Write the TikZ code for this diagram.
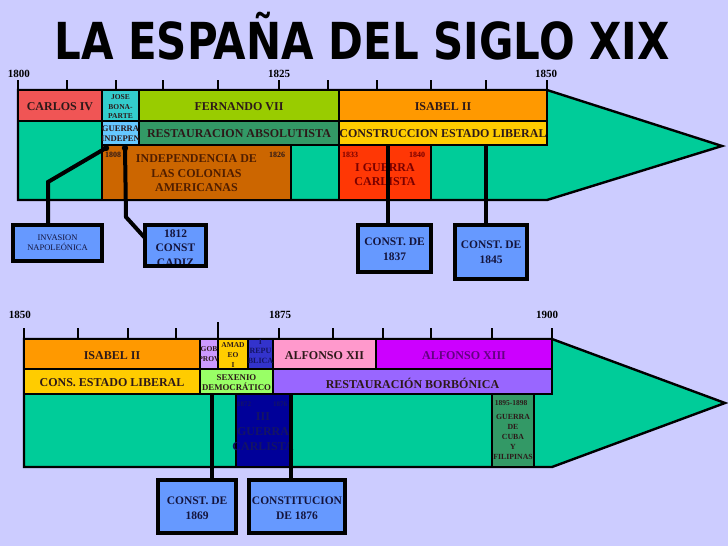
\documentclass[tikz,border=0pt]{standalone}
\usepackage{fontspec}
\setmainfont{Liberation Serif}
\newfontfamily\titlefont{DejaVu Sans}
\usetikzlibrary{calc}

\definecolor{bg}{RGB}{204,204,255}
\definecolor{teal}{RGB}{0,204,153}
\definecolor{carlosc}{RGB}{240,85,85}
\definecolor{josec}{RGB}{51,204,204}
\definecolor{fernc}{RGB}{153,204,0}
\definecolor{isac}{RGB}{255,153,0}
\definecolor{guerrac}{RGB}{102,200,255}
\definecolor{restc}{RGB}{51,153,102}
\definecolor{goldc}{RGB}{255,204,0}
\definecolor{indepc}{RGB}{204,102,0}
\definecolor{carl1c}{RGB}{255,55,5}
\definecolor{gobc}{RGB}{204,153,255}
\definecolor{repc}{RGB}{51,51,204}
\definecolor{alf12c}{RGB}{255,153,204}
\definecolor{alf13c}{RGB}{204,0,255}
\definecolor{sexc}{RGB}{153,255,102}
\definecolor{borbc}{RGB}{153,102,255}
\definecolor{carl3c}{RGB}{0,0,153}
\definecolor{cubac}{RGB}{51,153,102}
\definecolor{boxc}{RGB}{102,153,255}
\definecolor{txt}{RGB}{45,25,25}
\definecolor{indtxt}{RGB}{80,30,0}
\definecolor{car1txt}{RGB}{120,0,0}
\definecolor{alf13txt}{RGB}{100,0,130}
\definecolor{navytxt}{RGB}{20,20,100}
\definecolor{boxtxt}{RGB}{20,20,60}

\tikzset{
  cellst/.style={draw=black, line width=2.2pt, inner sep=0pt, outer sep=0pt, anchor=north west},
  boxst/.style={draw=black, line width=4pt, fill=boxc, inner sep=0pt, outer sep=0pt, anchor=north west},
  arrowst/.style={draw=black, line width=2.4pt, fill=teal, line join=miter},
  lbl/.style={font=\bfseries\fontsize{12}{14.5}\selectfont, text=txt, align=center, inner sep=0pt},
  tinylbl/.style={font=\bfseries\fontsize{7.5}{9.8}\selectfont, text=txt, align=center, inner sep=0pt},
  yrsmall/.style={font=\bfseries\fontsize{8}{9}\selectfont, text=txt, inner sep=0pt},
  yrlbl/.style={font=\bfseries\fontsize{11}{12}\selectfont, text=black, inner sep=0pt},
  boxlbl/.style={font=\bfseries\fontsize{11.5}{15}\selectfont, text=boxtxt, align=center, inner sep=0pt},
  conn/.style={draw=black, line width=4pt},
  tickst/.style={draw=black, line width=1.3pt},
}

\newcommand\mkcell[6]{%
  \pgfmathsetmacro\cw{#4-#2}\pgfmathsetmacro\ch{#5-#3}%
  \node[cellst, fill=#6, minimum width=\cw pt, minimum height=\ch pt] (#1) at (#2,#3) {};}
\newcommand\mkbox[5]{%
  \pgfmathsetmacro\cw{#4-#2}\pgfmathsetmacro\ch{#5-#3}%
  \node[boxst, minimum width=\cw pt, minimum height=\ch pt] (#1) at (#2,#3) {};}
\newcommand\titletext{\scalebox{0.823}[1]{\titlefont\bfseries\fontsize{51}{60}\selectfont LA ESPAÑA DEL SIGLO XIX}}

\begin{document}
\begin{tikzpicture}[x=1pt,y=-1pt]
\fill[bg] (0,0) rectangle (728,546);
\useasboundingbox (0,0) rectangle (728,546);

% title
\node[anchor=base, text=black, inner sep=0pt] (title) at (362,59) {\titletext};

% ================= TOP TIMELINE =================
\node[yrlbl] (y1800) at (19,74) {1800};
\node[yrlbl] (y1825) at (279,74) {1825};
\node[yrlbl] (y1850a) at (546,74) {1850};
\foreach \x in {18,67,116,163,218,279,328,377,431,486,547}
  \draw[tickst] (\x,80) -- (\x,90);

\draw[arrowst] (18,90) -- (547,90) -- (722,146) -- (547,200) -- (18,200) -- cycle;

\mkcell{carlos}{18}{90}{102}{121}{carlosc}
\mkcell{jose}{102}{90}{139}{121}{josec}
\mkcell{fernando}{139}{90}{339}{121}{fernc}
\mkcell{isabel1}{339}{90}{547}{121}{isac}
\mkcell{guerra}{102}{121}{139}{145}{guerrac}
\mkcell{restabs}{139}{121}{339}{145}{restc}
\mkcell{constlib}{339}{121}{547}{145}{goldc}
\mkcell{indep}{102}{145}{291}{200}{indepc}
\mkcell{carl1}{339}{145}{431}{200}{carl1c}

\node[lbl] (tcarlos) at ([yshift=-1pt]carlos.center) {CARLOS IV};
\node[tinylbl, font=\bfseries\fontsize{7.5}{9.5}\selectfont] (tjose) at ([yshift=-1.5pt]jose.center) {JOSE\\BONA-\\PARTE};
\node[lbl] (tfern) at ([yshift=-1pt]fernando.center) {FERNANDO VII};
\node[lbl] (tisa1) at ([yshift=-1pt]isabel1.center) {ISABEL II};
\begin{scope}
  \clip (guerra.south west) rectangle (guerra.north east);
  \node[tinylbl, font=\bfseries\fontsize{8.6}{10}\selectfont] (tguerra) at ([yshift=-0.5pt]guerra.center) {GUERRA\\INDEPEN};
\end{scope}
\node[lbl] (trest) at ([yshift=-1pt]restabs.center) {RESTAURACION ABSOLUTISTA};
\node[lbl] (tcons) at ([yshift=-1pt]constlib.center) {CONSTRUCCION ESTADO LIBERAL};
\node[lbl, text=indtxt] (tindep) at ([yshift=-1pt]indep.center) {INDEPENDENCIA DE\\LAS COLONIAS\\AMERICANAS};
\node[yrsmall] (t1808) at (113,155) {1808};
\node[yrsmall] (t1826) at (277,155) {1826};
\node[yrsmall, text=car1txt] (t1833) at (350,155) {1833};
\node[yrsmall, text=car1txt] (t1840) at (417,155) {1840};
\node[lbl, text=car1txt, font=\bfseries\fontsize{12}{14}\selectfont] (tcarl1) at ([yshift=-2pt]carl1.center) {I GUERRA\\CARLISTA};

% boxes top
\mkbox{invasion}{13}{225}{102}{261}
\mkbox{cadiz}{145}{225}{206}{266}
\mkbox{b1837}{358}{225}{431}{272}
\mkbox{b1845}{455}{225}{527}{279}

% connectors top
\coordinate (d1) at (106,148);
\coordinate (d2) at (125,148);
\coordinate (k1) at (48,182);
\coordinate (k2) at (126,217);
\coordinate (k4) at (388,145);
\coordinate (k5) at (486,145);
\draw[conn] (d1) -- (k1) -- (k1 |- invasion.north);
\draw[conn] (d2) -- (k2) -- ($(cadiz.north west)+(0,13)$);
\draw[conn] (k4) -- (k4 |- b1837.north);
\draw[conn] (k5) -- (k5 |- b1845.north);
\fill[black] (d1) circle (3.2);
\fill[black] (d2) circle (3.2);

% redraw boxes over connector ends
\mkbox{invasion}{13}{225}{102}{261}
\mkbox{cadiz}{145}{225}{206}{266}
\mkbox{b1837}{358}{225}{431}{272}
\mkbox{b1845}{455}{225}{527}{279}

\node[font=\fontsize{8.5}{10}\selectfont, text=boxtxt, align=center, inner sep=0pt] (tinv) at (57.5,243) {INVASION\\NAPOLEÓNICA};
\node[boxlbl, font=\bfseries\fontsize{11.5}{14.5}\selectfont] (tcadiz) at (175.5,248) {1812\\CONST\\CADIZ};
\draw[black, line width=4.5pt] (cadiz.south west) -- (cadiz.south east);
\node[boxlbl] (t1837) at (394.5,249.5) {CONST. DE\\1837};
\node[boxlbl] (t1845) at (491,252.5) {CONST. DE\\1845};

% ================= BOTTOM TIMELINE =================
\node[yrlbl] (y1850b) at (20,315) {1850};
\node[yrlbl] (y1875) at (280,315) {1875};
\node[yrlbl] (y1900) at (547,315) {1900};
\foreach \x in {24,78,128,176,279,333,383,431,492,552}
  \draw[tickst] (\x,328) -- (\x,339);
\draw[tickst] (218,322) -- (218,339);

\draw[arrowst] (24,339) -- (552,339) -- (725,403) -- (552,467) -- (24,467) -- cycle;

\mkcell{isabel2}{24}{339}{200}{369}{isac}
\mkcell{gob}{200}{339}{218}{369}{gobc}
\mkcell{amadeo}{218}{339}{248}{369}{goldc}
\mkcell{repub}{248}{339}{273}{369}{repc}
\mkcell{alf12}{273}{339}{376}{369}{alf12c}
\mkcell{alf13}{376}{339}{552}{369}{alf13c}
\mkcell{conslib2}{24}{369}{200}{394}{goldc}
\mkcell{sexenio}{200}{369}{273}{394}{sexc}
\mkcell{restborb}{273}{369}{552}{394}{borbc}
\mkcell{carl3}{236}{394}{291}{467}{carl3c}
\mkcell{cuba}{492}{394}{534}{467}{cubac}

\node[lbl] (tisa2) at ([yshift=-2pt]isabel2.center) {ISABEL II};
\begin{scope}
  \clip (gob.south west) rectangle (gob.north east);
  \node[tinylbl] (tgob) at ([yshift=0pt]gob.center) {GOB\\PROV};
\end{scope}
\node[tinylbl] (tamadeo) at ([yshift=-1pt]amadeo.center) {AMAD\\EO\\I};
\begin{scope}
  \clip (repub.south west) rectangle (repub.north east);
  \node[tinylbl, text=navytxt, font=\bfseries\fontsize{8}{9.5}\selectfont] (trep) at ([yshift=3pt]repub.center) {I\\REPU\\BLICA};
\end{scope}
\node[lbl] (talf12) at ([yshift=-2pt]alf12.center) {ALFONSO XII};
\node[lbl, text=alf13txt] (talf13) at ([yshift=-2pt]alf13.center) {ALFONSO XIII};
\node[lbl] (tcons2) at ([yshift=-1.5pt]conslib2.center) {CONS. ESTADO LIBERAL};
\node[tinylbl, font=\bfseries\fontsize{8.8}{10}\selectfont] (tsex) at ([yshift=-1.5pt]sexenio.center) {SEXENIO\\DEMOCRÁTICO};
\node[lbl] (tborb) at ([yshift=-1.5pt]restborb.center) {RESTAURACIÓN BORBÓNICA};
\node[yrsmall, text=navytxt, font=\bfseries\fontsize{7}{8}\selectfont] (t1872) at (244,404) {1872};
\node[yrsmall, text=navytxt, font=\bfseries\fontsize{7}{8}\selectfont] (t1876) at (280,404) {1876};
\node[lbl, text=navytxt, font=\bfseries\fontsize{12}{15}\selectfont] (tcarl3) at (263,432) {III\\GUERRA\\CARLISTA};
\node[yrsmall, font=\bfseries\fontsize{7.5}{8}\selectfont] (t1895) at (511,403) {1895-1898};
\node[tinylbl, font=\bfseries\fontsize{7.8}{9.8}\selectfont] (tcuba) at (513,437) {GUERRA\\DE\\CUBA\\Y\\FILIPINAS};

% connectors bottom
\coordinate (k6) at (212,394);
\coordinate (k7) at (291,394);
\mkbox{b1869}{158}{480}{236}{533}
\mkbox{b1876}{249}{480}{345}{533}
\draw[conn] (k6) -- (k6 |- b1869.north);
\draw[conn] (k7) -- (k7 |- b1876.north);
\mkbox{b1869}{158}{480}{236}{533}
\mkbox{b1876}{249}{480}{345}{533}
\node[boxlbl] (t1869) at (197,508) {CONST. DE\\1869};
\node[boxlbl] (t1876b) at (297,508) {CONSTITUCION\\DE 1876};
\end{tikzpicture}
\end{document}
